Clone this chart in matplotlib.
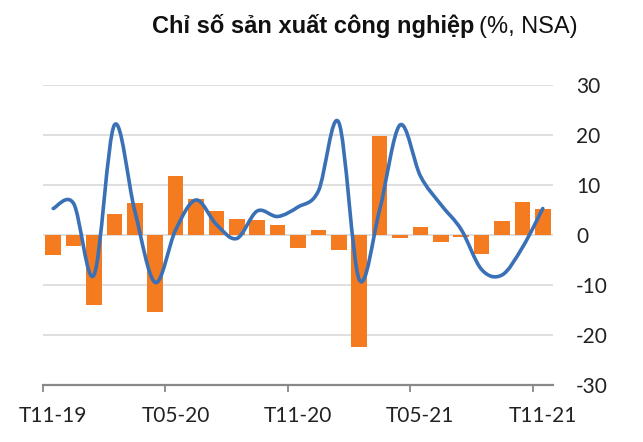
import matplotlib
matplotlib.use("Agg")
import matplotlib.pyplot as plt
from matplotlib.path import Path
from matplotlib.patches import PathPatch
import numpy as np

plt.rcParams["axes.unicode_minus"] = False

# ---- data ----
months = ["T11-19", "T12-19", "T01-20", "T02-20", "T03-20", "T04-20", "T05-20",
          "T06-20", "T07-20", "T08-20", "T09-20", "T10-20", "T11-20", "T12-20",
          "T01-21", "T02-21", "T03-21", "T04-21", "T05-21", "T06-21", "T07-21",
          "T08-21", "T09-21", "T10-21", "T11-21"]
bar_values = [-4.0, -2.1, -14.0, 4.3, 6.5, -15.3, 11.9, 7.2, 4.9, 3.3, 3.0, 2.1,
              -2.6, 1.0, -2.9, -22.3, 19.8, -0.6, 1.7, -1.3, -0.3, -3.8, 2.8, 6.7, 5.3]
line_values = [5.3, 6.3, -8.0, 22.0, 4.8, -9.5, 1.0, 7.0, 2.1, -0.7, 4.8, 3.7,
               5.6, 8.8, 22.5, -8.9, 5.0, 22.0, 11.8, 6.1, 1.1, -6.9, -8.0, -2.5, 5.3]
tick_labels = ["T11-19", "T05-20", "T11-20", "T05-21", "T11-21"]
title_bold = "Chỉ số sản xuất công nghiệp"
title_regular = "(%, NSA)"

BAR_COLOR = "#F47B20"
LINE_COLOR = "#3A70B6"

fig = plt.figure(figsize=(6.43, 4.42), dpi=100)
ax = fig.add_axes([43 / 643, 57 / 442, 510 / 643, 300 / 442])

x = np.arange(len(months))
ax.bar(x, bar_values, width=0.76, color=BAR_COLOR, zorder=2)

# smooth line (Excel-style bezier through the points)
pts = np.column_stack([x, line_values]).astype(float)
n = len(pts)
verts = [tuple(pts[0])]
codes = [Path.MOVETO]
for i in range(n - 1):
    p0 = pts[i - 1] if i > 0 else pts[i]
    p1 = pts[i]
    p2 = pts[i + 1]
    p3 = pts[i + 2] if i + 2 < n else pts[i + 1]
    c1 = p1 + (p2 - p0) / 6.0
    c2 = p2 - (p3 - p1) / 6.0
    verts += [tuple(c1), tuple(c2), tuple(p2)]
    codes += [Path.CURVE4] * 3
ax.add_patch(PathPatch(Path(verts, codes), facecolor="none", edgecolor=LINE_COLOR,
                       lw=2.6, zorder=3, capstyle="round", joinstyle="round"))

ax.set_xlim(-0.5, len(months) - 0.5)
ax.set_ylim(-30, 30)

ax.set_yticks(np.arange(-30, 31, 10))
ax.yaxis.tick_right()
ax.tick_params(axis="y", length=0, pad=16.5, labelsize=15, labelcolor="#222222")
ax.grid(axis="y", color="#D9D9D9", lw=1.2, zorder=0)
ax.set_axisbelow(True)

tick_pos = [months.index(t) for t in tick_labels]
ax.set_xticks(tick_pos)
ax.set_xticklabels(tick_labels)
ax.set_xticks([p - 0.5 for p in tick_pos], minor=True)
ax.tick_params(axis="x", which="major", length=0, pad=15, labelsize=15, labelcolor="#222222")
ax.tick_params(axis="x", which="minor", length=5, width=1.3, color="#888888", direction="out")

for s in ["top", "left", "right"]:
    ax.spines[s].set_visible(False)
ax.spines["bottom"].set_color("#888888")
ax.spines["bottom"].set_linewidth(1.6)

for lab in ax.get_xticklabels() + ax.get_yticklabels():
    lab.set_fontfamily("Lato")

# title: bold + regular, right aligned
t2 = fig.text(578 / 643, 1 - 33 / 442, title_regular, ha="right", va="baseline",
              fontsize=17, family="Liberation Sans", color="#111111")
fig.canvas.draw()
r = fig.canvas.get_renderer()
bb = t2.get_window_extent(r)
fig.text((bb.x0 - 5) / fig.bbox.width, 1 - 33 / 442, title_bold, ha="right", va="baseline",
         fontsize=17, family="Liberation Sans", fontweight="bold", color="#111111")

fig.savefig("out.png", dpi=100)
